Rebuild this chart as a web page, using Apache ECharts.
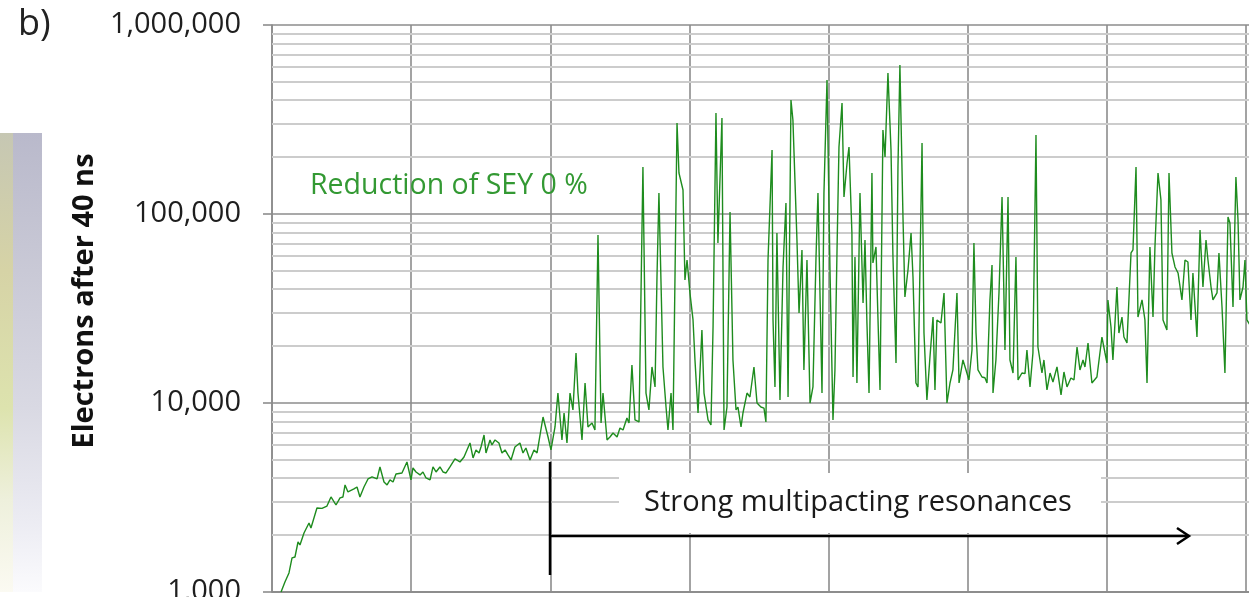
<!DOCTYPE html>
<html>
<head>
<meta charset="utf-8">
<script src="https://cdn.jsdelivr.net/npm/echarts@6/dist/echarts.min.js"></script>
<style>
html,body{margin:0;padding:0;background:#ffffff;}
#c{width:1249px;height:597px;}
</style>
</head>
<body>
<div id="c"></div>
<script>
// Sweep position (one vertical grid step = 100 units)
const sweep = [
6.5,9.3,12.2,14.4,16.5,18.7,20.1,23.0,24.4,26.6,28.0,32.3,35.9,39.5,42.4,46.0,48.9,51.0,52.5,54.6,
58.9,61.1,63.2,66.1,69.0,71.9,75.5,77.6,80.5,82.7,84.8,87.0,89.1,93.4,97.0,99.9,101.3,103.5,106.4,108.5,
110.7,113.6,115.7,117.9,120.7,122.9,125.1,127.9,131.5,135.1,138.0,142.3,144.5,146.6,148.8,150.2,152.4,153.8,156.7,158.1,
160.3,163.1,165.3,167.5,169.6,171.8,174.6,178.2,180.4,182.5,185.4,188.3,190.5,194.8,198.4,200.5,203.4,205.5,208.4,209.9,
212.0,214.2,216.3,218.5,219.9,222.8,225.0,227.1,230.0,232.1,234.3,236.5,237.9,240.8,242.9,245.1,248.0,250.1,252.3,255.1,
256.6,258.7,260.9,263.8,266.6,268.8,270.9,273.1,275.3,276.7,278.1,281.0,283.2,284.6,286.8,288.2,291.1,292.5,295.4,296.8,
298.3,300.4,302.6,304.0,306.2,309.0,310.5,313.4,315.5,317.0,319.1,320.5,323.4,324.9,327.0,329.2,331.3,333.5,334.9,337.1,
338.5,341.4,343.5,346.4,348.6,351.4,353.6,355.0,356.5,359.4,360.1,361.5,362.9,365.1,367.3,369.4,370.9,373.0,374.4,377.3,
378.8,380.9,382.3,384.5,386.7,388.8,391.0,392.4,395.3,396.7,398.9,401.0,403.2,404.6,406.1,407.5,409.7,411.1,413.3,414.7,
416.8,417.6,419.0,420.4,422.6,424.8,426.2,427.6,429.1,431.2,431.9,434.1,435.5,437.0,439.1,440.6,442.7,444.9,446.3,448.5,
449.9,451.3,453.5,454.9,457.1,459.3,460.7,462.8,464.3,467.2,468.6,470.7,472.9,475.1,476.5,477.9,480.8,483.0,485.1,487.3,
489.4,492.3,493.8,496.6,498.8,500.9,503.1,504.5,506.0,507.4,510.3,512.4,513.9,516.0,517.5,518.2,520.3,522.5,524.7,526.8,
529.0,530.4,532.6,534.7,536.2,539.0,541.2,542.6,544.8,546.9,549.1,550.5,553.4,554.8,557.0,559.2,561.3,564.2,567.1,569.2,
571.4,574.2,576.4,578.6,580.7,582.9,584.3,586.5,589.3,592.9,596.5,598.7,600.1,600.8,603.0,604.4,607.3,608.7,610.9,612.3,
614.5,617.4,618.8,621.0,622.4,625.3,627.4,628.9,631.0,633.2,634.6,636.8,638.9,640.4,643.2,644.7,646.8,649.0,651.2,654.0,
656.2,658.3,660.5,661.9,664.8,667.0,669.1,671.3,672.7,674.9,676.3,679.2,680.6,682.8,684.9,687.1,688.5,690.7,692.8,694.3,
695.7,697.9,699.3,700.7,702.9
];
// Electrons after 40 ns (Reduction of SEY 0 %)
const electrons = [
1000,1129,1261,1514,1532,1839,1774,2052,2040,2318,2181,2784,2770,2850,3183,2886,3145,3183,3685,3383,
3510,3595,3183,3595,3964,4061,3964,4587,3821,3685,3916,3821,4213,4264,4875,3916,4532,4316,4163,4316,
4012,3916,4587,4316,4587,4316,4264,4587,5057,4875,5181,6144,5119,5643,5440,5851,6774,5440,6375,5997,
6375,6144,5440,5643,5310,4997,5851,6144,5440,5781,4994,5643,5440,8432,6610,5643,7466,11290,6375,8854,
6144,11290,9185,18390,11290,6375,12760,7466,7839,7200,77450,7839,11290,6375,6610,6940,6610,7376,7200,8331,
7839,15900,8132,7936,177400,11290,9185,15510,12160,46450,129200,15510,9521,7200,11290,7200,303100,164800,134000,44780,
57120,38210,27510,16890,8854,24350,11290,8132,7652,25250,342400,70240,322200,7200,9521,102500,16890,9185,9521,7466,
8854,11290,10760,15510,10000,9521,9400,7936,57120,218100,27510,12160,79340,10370,52460,114300,10760,401200,314500,72880,
29950,64530,14960,57120,10000,12160,59220,129200,11290,129200,511900,52460,8132,14960,64530,226300,386700,123100,186100,226300,
79340,13730,59220,12760,129200,33830,72880,26500,11290,164800,55060,66930,28500,11730,278400,200300,557300,218100,59220,16290,
177400,614400,96430,36410,50570,79340,46450,12760,12160,237500,23460,10370,17520,28500,11730,27510,26500,38210,10000,12760,
14960,38210,12760,16890,14960,13240,19080,70240,23460,14960,13730,13600,12760,35090,53750,11290,16890,38210,123100,19080,
123100,16890,14410,59220,13240,14410,14300,19080,12160,18390,261800,19780,14410,16890,11730,14410,12920,15510,11030,14590,
12160,13560,13240,19780,14960,16890,15510,20770,12760,13730,22340,18390,16290,35090,25250,16890,41100,23460,28500,22340,
20770,62190,64530,177400,28500,35090,27510,12760,66930,28500,66930,164800,118700,27510,24350,164800,62190,52460,48750,35090,
57120,55730,27510,48750,22340,82310,41100,72880,57120,41100,35090,38210,62190,32220,14410,96430,89620,32220,157100,92960,
35090,41100,57120,27510,25870
];
// Minor log grid levels (2..9 x each decade)
const minorLevels = [2000,3000,4000,5000,6000,7000,8000,9000,
  20000,30000,40000,50000,60000,70000,80000,90000,
  200000,300000,400000,500000,600000,700000,800000,900000];
const texts = {
  panel: 'b)',
  yTitle: 'Electrons after 40 ns',
  seriesLabel: 'Reduction of SEY 0 %',
  note: 'Strong multipacting resonances'
};

const FONT = '"Open Sans", "Liberation Sans", sans-serif';
const chart = echarts.init(document.getElementById('c'), null, {renderer: 'canvas'});
const fmt = v => String(Math.round(v)).replace(/\B(?=(\d{3})+(?!\d))/g, ',');
const points = sweep.map((x, i) => [x, electrons[i]]);

chart.setOption({
  animation: false,
  backgroundColor: '#ffffff',
  grid: {left: 272, top: 25, width: 977, height: 567, containLabel: false, outerBoundsMode: 'none'},
  xAxis: {
    type: 'value', min: 0, max: 702.2, interval: 100,
    axisLine: {show: true, lineStyle: {color: '#8c8c8c', width: 1.6}},
    axisTick: {show: false},
    axisLabel: {show: false},
    splitLine: {show: true, showMaxLine: false, lineStyle: {color: '#8c8c8c', width: 1.6}}
  },
  yAxis: {
    type: 'log', logBase: 10, min: 1000, max: 1000000, splitNumber: 3,
    axisLine: {show: true, lineStyle: {color: '#8c8c8c', width: 1.6}},
    axisTick: {show: true, length: 9, lineStyle: {color: '#8c8c8c', width: 1.6}},
    axisLabel: {margin: 31, fontSize: 29, color: '#1e1e1e', fontFamily: FONT, formatter: fmt},
    splitLine: {show: true, lineStyle: {color: '#8c8c8c', width: 1.6}}
  },
  series: [
    {
      type: 'line', data: points, z: 1, silent: true, symbol: 'none',
      lineStyle: {opacity: 0},
      markLine: {
        silent: true, z: 1, symbol: ['none', 'none'], label: {show: false},
        lineStyle: {color: '#cccccc', width: 1.8, type: 'solid'},
        emphasis: {disabled: true},
        data: minorLevels.map(v => ({yAxis: v}))
      }
    },
    {
      type: 'line', data: points, z: 3, symbol: 'none', showSymbol: false,
      lineStyle: {color: '#1e8c1e', width: 1.4}
    }
  ],
  graphic: [
    {type: 'rect', left: 0, top: 133, z: 0, shape: {width: 13, height: 459},
      style: {fill: new echarts.graphic.LinearGradient(0, 0, 0, 1, [
        {offset: 0, color: '#c6c7b3'}, {offset: 0.3, color: '#d6d3a6'},
        {offset: 0.6, color: '#dde3ae'}, {offset: 0.8, color: '#eef0dc'}, {offset: 1, color: '#fbfaf2'}])}},
    {type: 'rect', left: 13, top: 133, z: 0, shape: {width: 29, height: 459},
      style: {fill: new echarts.graphic.LinearGradient(0, 0, 0, 1, [
        {offset: 0, color: '#b9b9cb'}, {offset: 0.3, color: '#c9c9d6'},
        {offset: 0.6, color: '#d9d9e3'}, {offset: 0.85, color: '#ececf3'}, {offset: 1, color: '#fbfbfd'}])}},
    {type: 'text', z: 10, x: 18, y: 25,
      style: {text: texts.panel, font: '36px ' + FONT, fill: '#222222', textVerticalAlign: 'middle'}},
    {type: 'text', z: 10, x: 85, y: 301, rotation: Math.PI / 2,
      style: {text: texts.yTitle, font: 'bold 29px ' + FONT, fill: '#111111', textAlign: 'center', textVerticalAlign: 'middle'}},
    {type: 'text', z: 10, x: 310, y: 186,
      style: {text: texts.seriesLabel, font: '28.5px ' + FONT, fill: '#339933', textVerticalAlign: 'middle'}},
    {type: 'rect', z: 10, shape: {x: 619, y: 473, width: 482, height: 60},
      style: {fill: '#ffffff'}},
    {type: 'text', z: 11, x: 858, y: 503,
      style: {text: texts.note, font: '29px ' + FONT, fill: '#1a1a1a', textAlign: 'center', textVerticalAlign: 'middle'}},
    {type: 'line', z: 12, shape: {x1: 550, y1: 462, x2: 550, y2: 575},
      style: {stroke: '#000000', lineWidth: 2.5}},
    {type: 'line', z: 12, shape: {x1: 550, y1: 536, x2: 1188, y2: 536},
      style: {stroke: '#000000', lineWidth: 2.5}},
    {type: 'polyline', z: 12, shape: {points: [[1177, 528], [1189, 536], [1177, 544]]},
      style: {stroke: '#000000', lineWidth: 2.5, fill: null}}
  ]
});
</script>
</body>
</html>
